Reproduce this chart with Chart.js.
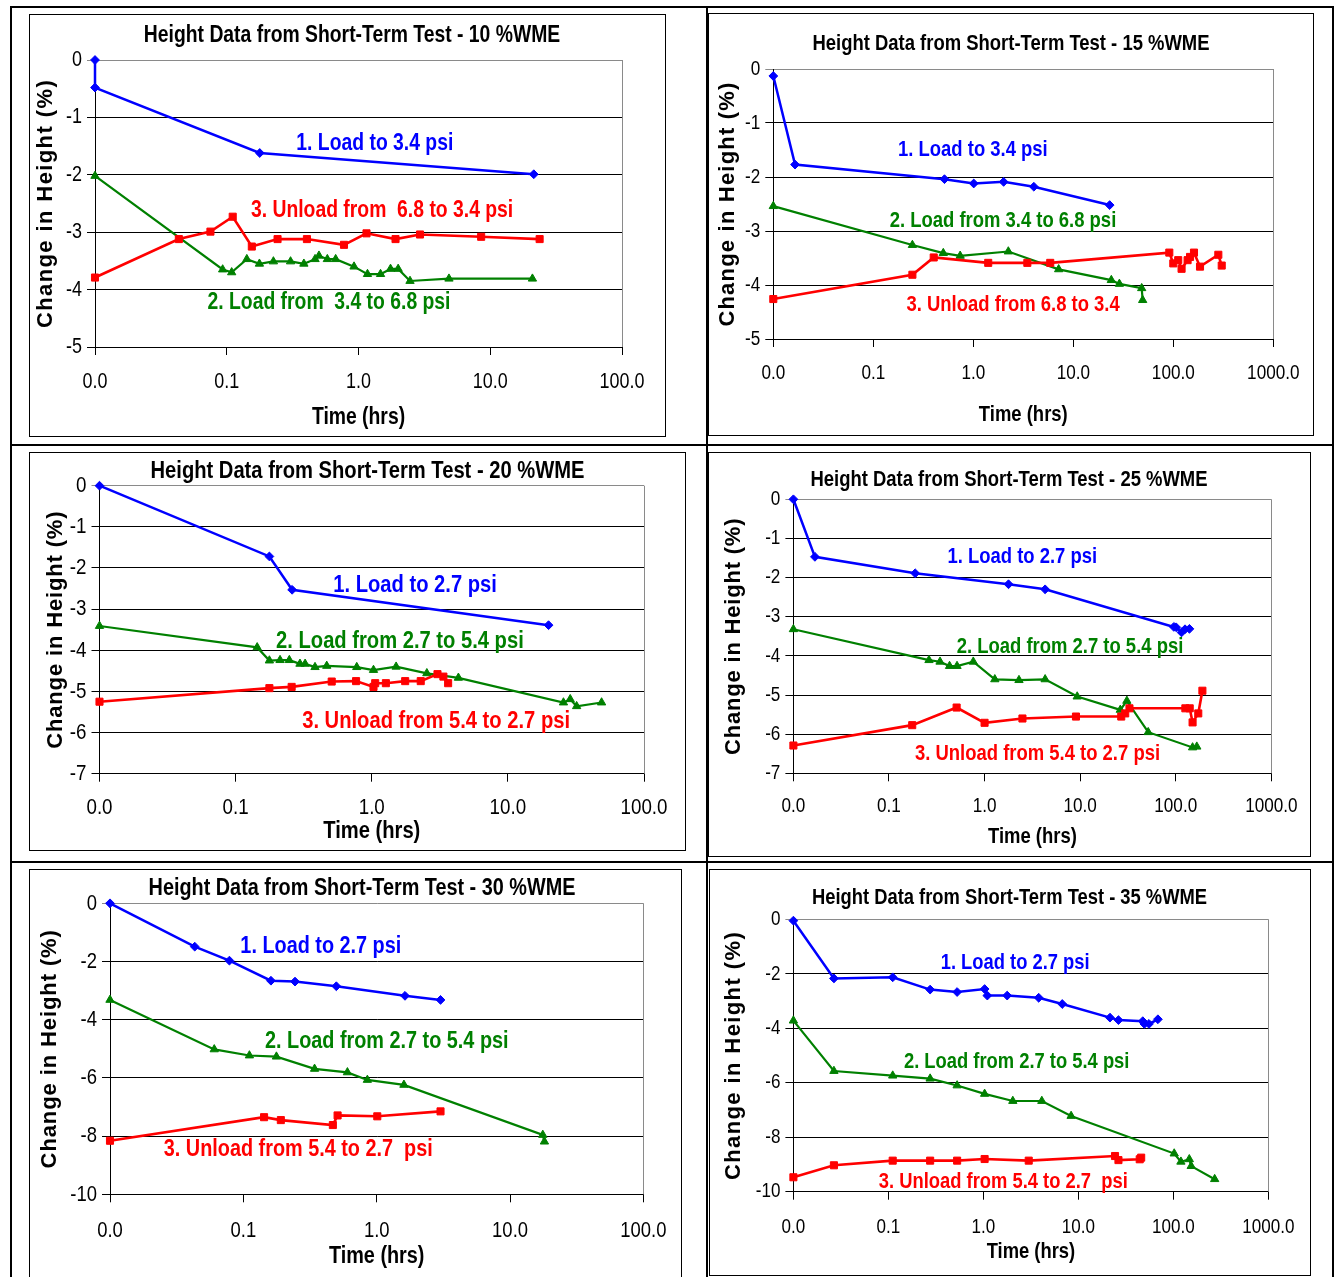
<!DOCTYPE html>
<html><head><meta charset="utf-8">
<script src="https://cdn.jsdelivr.net/npm/chart.js@4.4.1/dist/chart.umd.min.js"></script>
<style>
html,body{margin:0;padding:0;background:#fff}
body{width:1335px;height:1277px;position:relative;overflow:hidden}
.ln{position:absolute;background:#000}
.frame{position:absolute;border:1px solid #000;box-sizing:border-box}
canvas{position:absolute}
</style></head>
<body>
<div class="ln" style="left:10px;top:6px;width:1324px;height:2px"></div>
<div class="ln" style="left:10px;top:6px;width:2px;height:1280px"></div>
<div class="ln" style="left:1332px;top:6px;width:2px;height:1280px"></div>
<div class="ln" style="left:706px;top:6px;width:2px;height:1280px"></div>
<div class="ln" style="left:10px;top:444px;width:1324px;height:2px"></div>
<div class="ln" style="left:10px;top:861px;width:1324px;height:2px"></div>
<script>
// ---------------- DATA ----------------
// Time (hrs) and change in height (%) for each stage, per test (%WME)
const t10_load1 = [0.01, 0.01, 0.178, 21.4];
const h10_load1 = [0, -0.48, -1.62, -1.99];
const t10_load2 = [0.01, 0.0931, 0.109, 0.142, 0.177, 0.226, 0.305, 0.385, 0.468, 0.501, 0.580, 0.671, 0.925, 1.17, 1.47, 1.75, 2.00, 2.46, 4.86, 20.9];
const h10_load2 = [-2.02, -3.65, -3.70, -3.47, -3.55, -3.51, -3.51, -3.55, -3.47, -3.41, -3.47, -3.47, -3.60, -3.73, -3.73, -3.64, -3.64, -3.85, -3.81, -3.81];
const t10_unload = [0.01, 0.0433, 0.0752, 0.111, 0.155, 0.243, 0.406, 0.776, 1.15, 1.91, 2.93, 8.53, 23.7];
const h10_unload = [-3.79, -3.12, -2.99, -2.73, -3.25, -3.12, -3.12, -3.22, -3.02, -3.12, -3.04, -3.08, -3.12];

const t15_load1 = [0.01, 0.0165, 0.515, 1.01, 2.01, 4.03, 23.1];
const h15_load1 = [-0.13, -1.77, -2.04, -2.12, -2.09, -2.18, -2.52];
const t15_load2 = [0.01, 0.246, 0.501, 0.739, 2.24, 7.14, 24.0, 28.9, 48.3, 49.4];
const h15_load2 = [-2.54, -3.26, -3.41, -3.46, -3.38, -3.71, -3.91, -3.98, -4.06, -4.28];
const t15_unload = [0.01, 0.246, 0.402, 1.41, 3.47, 5.88, 91.2, 100, 112, 121, 139, 147, 161, 185, 282, 305];
const h15_unload = [-4.26, -3.81, -3.49, -3.59, -3.59, -3.59, -3.40, -3.60, -3.54, -3.70, -3.54, -3.48, -3.40, -3.66, -3.44, -3.64];

const t20_load1 = [0.01, 0.177, 0.26, 19.9];
const h20_load1 = [0, -1.72, -2.53, -3.39];
const t20_load2 = [0.01, 0.144, 0.177, 0.212, 0.248, 0.297, 0.324, 0.383, 0.467, 0.776, 1.03, 1.51, 2.54, 4.33, 25.6, 28.7, 32.0, 48.8];
const h20_load2 = [-3.41, -3.93, -4.25, -4.24, -4.24, -4.33, -4.33, -4.41, -4.38, -4.41, -4.48, -4.40, -4.56, -4.67, -5.27, -5.19, -5.36, -5.27];
const t20_unload = [0.01, 0.177, 0.258, 0.508, 0.767, 1.03, 1.06, 1.27, 1.76, 2.29, 3.04, 3.36, 3.64];
const h20_unload = [-5.25, -4.92, -4.89, -4.76, -4.75, -4.89, -4.80, -4.80, -4.75, -4.75, -4.58, -4.64, -4.80];

const t25_load1 = [0.01, 0.0168, 0.188, 1.78, 4.30, 95.5, 101, 115, 125, 139];
const h25_load1 = [0, -1.47, -1.89, -2.17, -2.30, -3.26, -3.27, -3.40, -3.32, -3.31];
const t25_load2 = [0.01, 0.262, 0.342, 0.430, 0.515, 0.762, 1.28, 2.29, 4.30, 9.31, 26.3, 30.8, 51.5, 150, 166];
const h25_load2 = [-3.32, -4.11, -4.15, -4.26, -4.26, -4.15, -4.60, -4.62, -4.60, -5.04, -5.38, -5.15, -5.95, -6.34, -6.32];
const t25_unload = [0.01, 0.175, 0.510, 1.00, 2.49, 9.04, 26.9, 29.6, 32.8, 126, 140, 150, 172, 190];
const h25_unload = [-6.29, -5.77, -5.32, -5.71, -5.60, -5.55, -5.55, -5.47, -5.34, -5.34, -5.34, -5.70, -5.47, -4.89];

const t30_load1 = [0.01, 0.0432, 0.0786, 0.161, 0.244, 0.498, 1.63, 3.01];
const h30_load1 = [0, -1.49, -1.97, -2.66, -2.69, -2.85, -3.18, -3.32];
const t30_load2 = [0.01, 0.0605, 0.111, 0.177, 0.342, 0.603, 0.851, 1.60, 17.6, 18.1];
const h30_load2 = [-3.32, -5.02, -5.23, -5.27, -5.69, -5.81, -6.07, -6.24, -7.96, -8.19];
const t30_unload = [0.01, 0.143, 0.191, 0.469, 0.509, 1.01, 3.01];
const h30_unload = [-8.16, -7.35, -7.45, -7.62, -7.29, -7.32, -7.15];

const t35_load1 = [0.01, 0.0267, 0.111, 0.275, 0.529, 1.03, 1.10, 1.78, 3.82, 6.76, 21.5, 26.4, 47.6, 49.5, 55.3, 68.7];
const h35_load1 = [-0.05, -2.17, -2.13, -2.58, -2.67, -2.56, -2.80, -2.80, -2.88, -3.11, -3.61, -3.70, -3.74, -3.84, -3.84, -3.67];
const t35_load2 = [0.01, 0.0267, 0.111, 0.275, 0.529, 1.03, 2.04, 4.12, 8.38, 102, 120, 147, 154, 272];
const h35_load2 = [-3.72, -5.57, -5.74, -5.85, -6.10, -6.41, -6.67, -6.67, -7.22, -8.60, -8.90, -8.81, -9.06, -9.54];
const t35_unload = [0.01, 0.0267, 0.111, 0.275, 0.529, 1.03, 3.00, 24.3, 26.4, 44.2, 45.8];
const h35_unload = [-9.47, -9.03, -8.86, -8.86, -8.86, -8.80, -8.86, -8.69, -8.84, -8.81, -8.75];

// Tick values and labels
const xTicks4 = [0.01, 0.1, 1, 10, 100];
const xTickLabels4 = ['0.0', '0.1', '1.0', '10.0', '100.0'];
const xTicks5 = [0.01, 0.1, 1, 10, 100, 1000];
const xTickLabels5 = ['0.0', '0.1', '1.0', '10.0', '100.0', '1000.0'];

const titles = ['Height Data from Short-Term Test - 10 %WME', 'Height Data from Short-Term Test - 15 %WME',
  'Height Data from Short-Term Test - 20 %WME', 'Height Data from Short-Term Test - 25 %WME',
  'Height Data from Short-Term Test - 30 %WME', 'Height Data from Short-Term Test - 35 %WME'];
const xAxisTitle = 'Time (hrs)';
const yAxisTitle = 'Change in Height (%)';

// Series annotation texts and their anchor (time, height) in data units
const labels10 = ['1. Load to 3.4 psi', '2. Load from  3.4 to 6.8 psi', '3. Unload from  6.8 to 3.4 psi'];
const labelPos10 = [[1.33, -1.45], [0.597, -4.22], [1.51, -2.63]];
const labels15 = ['1. Load to 3.4 psi', '2. Load from 3.4 to 6.8 psi', '3. Unload from 6.8 to 3.4'];
const labelPos15 = [[0.99, -1.5], [1.98, -2.81], [2.5, -4.37]];
const labels20 = ['1. Load to 2.7 psi', '2. Load from 2.7 to 5.4 psi', '3. Unload from 5.4 to 2.7 psi'];
const labelPos20 = [[2.08, -2.41], [1.61, -3.78], [2.97, -5.72]];
const labels25 = ['1. Load to 2.7 psi', '2. Load from 2.7 to 5.4 psi', '3. Unload from 5.4 to 2.7 psi'];
const labelPos25 = [[2.48, -1.47], [7.83, -3.77], [3.58, -6.51]];
const labels30 = ['1. Load to 2.7 psi', '2. Load from 2.7 to 5.4 psi', '3. Unload from 5.4 to 2.7  psi'];
const labelPos30 = [[0.381, -1.47], [1.19, -4.76], [0.258, -8.44]];
const labels35 = ['1. Load to 2.7 psi', '2. Load from 2.7 to 5.4 psi', '3. Unload from 5.4 to 2.7  psi'];
const labelPos35 = [[2.16, -1.60], [2.24, -5.24], [1.62, -9.63]];

// ---------------- NARROW FONT EMULATION ----------------
// No Arial Narrow installed: draw Liberation Sans condensed horizontally
// for any font whose family list starts with the "NarrowSim" alias.
const NARROW_K = 0.82;
(function () {
  const P = CanvasRenderingContext2D.prototype;
  const ofill = P.fillText, omeasure = P.measureText;
  P.fillText = function (text, x, y, maxW) {
    if (this.font.indexOf('NarrowSim') >= 0) {
      this.save(); this.translate(x, y); this.scale(NARROW_K, 1);
      if (maxW !== undefined) ofill.call(this, text, 0, 0, maxW / NARROW_K); else ofill.call(this, text, 0, 0);
      this.restore();
    } else {
      ofill.apply(this, arguments);
    }
  };
  P.measureText = function (text) {
    const m = omeasure.call(this, text);
    if (this.font.indexOf('NarrowSim') >= 0) {
      return {
        width: m.width * NARROW_K,
        actualBoundingBoxLeft: m.actualBoundingBoxLeft * NARROW_K,
        actualBoundingBoxRight: m.actualBoundingBoxRight * NARROW_K,
        actualBoundingBoxAscent: m.actualBoundingBoxAscent,
        actualBoundingBoxDescent: m.actualBoundingBoxDescent,
        fontBoundingBoxAscent: m.fontBoundingBoxAscent,
        fontBoundingBoxDescent: m.fontBoundingBoxDescent
      };
    }
    return m;
  };
})();

// ---------------- STYLE / LAYOUT ----------------
const NARROW = "NarrowSim,'Liberation Sans',Arial,sans-serif";
const WIDE = "'Liberation Sans',Arial,sans-serif";
const COLORS = ['#0000FF', '#008000', '#FF0000'];
const MARKERS = ['rectRot', 'triangle', 'rect'];
const RADII = [4.4, 4.8, 5.0];
const WIDTHS = [2.5, 2.2, 2.6];

const panels = [
  {frame:[29,14,637,423], box:{x:30,y:15,w:635,h:421}, plot:{l:65,r:592,t:45,b:332}, tpos:[322,20], fs:23.6, xTickOff:35, xTitleOff:70, yTitleC:16, yLS:1.4,
   xMax:100, xt:xTicks4, xl:xTickLabels4, yMin:-5, yStep:1,
   t:[t10_load1,t10_load2,t10_unload], h:[h10_load1,h10_load2,h10_unload], lab:labels10, lp:labelPos10},
  {frame:[708,13,606,423], box:{x:709,y:14,w:604,h:421}, plot:{l:64.3,r:564.3,t:55,b:325}, tpos:[302,30], fs:22.5, xTickOff:34, xTitleOff:76, yTitleC:19, yLS:1.2,
   xMax:1000, xt:xTicks5, xl:xTickLabels5, yMin:-5, yStep:1,
   t:[t15_load1,t15_load2,t15_unload], h:[h15_load1,h15_load2,h15_unload], lab:labels15, lp:labelPos15},
  {frame:[29,452,657,399], box:{x:30,y:453,w:655,h:397}, plot:{l:69.5,r:614,t:32.7,b:320.7}, tpos:[337.5,18.7], fs:24.6, xTickOff:34, xTitleOff:58, yTitleC:26, yLS:0.85,
   xMax:100, xt:xTicks4, xl:xTickLabels4, yMin:-7, yStep:1,
   t:[t20_load1,t20_load2,t20_unload], h:[h20_load1,h20_load2,h20_unload], lab:labels20, lp:labelPos20},
  {frame:[708,452,603,405], box:{x:709,y:453,w:601,h:403}, plot:{l:84.4,r:569.2,t:46.3,b:320.3}, tpos:[300,27], fs:22.5, xTickOff:33, xTitleOff:63, yTitleC:25, yLS:0.8,
   xMax:1000, xt:xTicks5, xl:xTickLabels5, yMin:-7, yStep:1,
   t:[t25_load1,t25_load2,t25_unload], h:[h25_load1,h25_load2,h25_unload], lab:labels25, lp:labelPos25},
  {frame:[29,869,653,420], box:{x:30,y:870,w:651,h:407}, plot:{l:80,r:623.8,t:33.3,b:324.3}, tpos:[332,18.3], fs:24.2, xTickOff:36, xTitleOff:62, yTitleC:20, yLS:0.9,
   xMax:100, xt:xTicks4, xl:xTickLabels4, yMin:-10, yStep:2,
   t:[t30_load1,t30_load2,t30_unload], h:[h30_load1,h30_load2,h30_unload], lab:labels30, lp:labelPos30},
  {frame:[709,869,602,407], box:{x:710,y:870,w:600,h:404}, plot:{l:83.4,r:563.3,t:49.3,b:321.7}, tpos:[299.5,28.3], fs:22.4, xTickOff:36, xTitleOff:60, yTitleC:24, yLS:1.4,
   xMax:1000, xt:xTicks5, xl:xTickLabels5, yMin:-10, yStep:2,
   t:[t35_load1,t35_load2,t35_unload], h:[h35_load1,h35_load2,h35_unload], lab:labels35, lp:labelPos35}
];

// ---------------- PLUGINS ----------------
const panelTitle = {
  id: 'panelTitle',
  afterDraw(chart, args, o) {
    const ctx = chart.ctx; ctx.save();
    ctx.font = 'bold ' + o.size + 'px ' + NARROW;
    ctx.fillStyle = '#000'; ctx.textAlign = 'center'; ctx.textBaseline = 'middle';
    ctx.fillText(o.text, o.x, o.y); ctx.restore();
  }
};
const seriesText = {
  id: 'seriesText',
  afterDatasetsDraw(chart, args, o) {
    const ctx = chart.ctx, xs = chart.scales.x, ys = chart.scales.y;
    ctx.save();
    ctx.font = 'bold ' + o.size + 'px ' + NARROW;
    ctx.textAlign = 'center'; ctx.textBaseline = 'middle';
    o.items.forEach(it => {
      ctx.fillStyle = it.color;
      ctx.fillText(it.text, xs.getPixelForValue(it.t), ys.getPixelForValue(it.h));
    });
    ctx.restore();
  }
};
const plotFrame = {
  id: 'plotFrame',
  beforeDatasetsDraw(chart) {
    const a = chart.chartArea, ctx = chart.ctx;
    ctx.save(); ctx.strokeStyle = '#8a8a8a'; ctx.lineWidth = 1;
    ctx.beginPath(); ctx.moveTo(Math.round(a.right) + 0.5, a.top); ctx.lineTo(Math.round(a.right) + 0.5, a.bottom); ctx.stroke();
    ctx.restore();
  }
};
const spacedYTitle = {
  id: 'spacedYTitle',
  beforeDraw(chart, args, o) {
    const s = chart.scales.y;
    if (s && !s.__spaced) {
      const orig = s.drawTitle;
      s.drawTitle = function () {
        const ctx = this.ctx; ctx.save();
        ctx.letterSpacing = o.spacing + 'px';
        orig.apply(this, arguments);
        ctx.restore();
      };
      s.__spaced = true;
    }
  }
};

// ---------------- BUILD ----------------
panels.forEach((p, idx) => {
  const fr = document.createElement('div');
  fr.className = 'frame';
  fr.style.left = p.frame[0] + 'px'; fr.style.top = p.frame[1] + 'px';
  fr.style.width = p.frame[2] + 'px'; fr.style.height = p.frame[3] + 'px';
  document.body.appendChild(fr);

  const cv = document.createElement('canvas');
  cv.width = p.box.w; cv.height = p.box.h;
  cv.style.left = p.box.x + 'px'; cv.style.top = p.box.y + 'px';
  cv.style.width = p.box.w + 'px'; cv.style.height = p.box.h + 'px';
  document.body.appendChild(cv);

  const tickFs = Math.round(p.fs * 0.93 * 10) / 10;
  const tickLH = tickFs * 1.2;
  const xTitleLH = p.fs * 1.2;
  const yTitleFs = 22, yTitleLH = yTitleFs * 1.2;
  const xAxisH = p.box.h - p.plot.b;

  const datasets = [2, 1, 0].map(k => ({
    label: p.lab[k],
    data: p.t[k].map((tv, i) => ({x: tv, y: p.h[k][i]})),
    showLine: true,
    borderColor: COLORS[k], backgroundColor: COLORS[k],
    borderWidth: WIDTHS[k], pointStyle: MARKERS[k], pointRadius: RADII[k],
    pointBorderWidth: 1, tension: 0, clip: false
  }));

  new Chart(cv, {
    type: 'scatter',
    data: {datasets},
    plugins: [panelTitle, seriesText, plotFrame, spacedYTitle],
    options: {
      responsive: false, animation: false, devicePixelRatio: 1,
      events: [],
      layout: {padding: {left: 0, top: p.plot.t, right: p.box.w - p.plot.r, bottom: 0}},
      plugins: {
        legend: {display: false}, tooltip: {enabled: false}, title: {display: false},
        panelTitle: {text: titles[idx], x: p.tpos[0], y: p.tpos[1], size: p.fs},
        seriesText: {size: p.fs, items: [0, 1, 2].map(k => ({text: p.lab[k], t: p.lp[k][0], h: p.lp[k][1], color: COLORS[k]}))},
        spacedYTitle: {spacing: p.yLS}
      },
      scales: {
        x: {
          type: 'logarithmic', position: 'bottom', min: 0.01, max: p.xMax,
          afterBuildTicks: s => { s.ticks = p.xt.map(v => ({value: v})); },
          afterFit: s => { s.height = xAxisH; },
          ticks: {
            autoSkip: false, maxRotation: 0, minRotation: 0, color: '#000',
            font: {family: NARROW, size: tickFs},
            padding: p.xTickOff - 8 - tickLH / 2,
            callback: (v, i) => p.xl[i]
          },
          grid: {drawOnChartArea: false, drawTicks: true, tickLength: 8, color: '#000', lineWidth: 1},
          border: {display: true, color: '#000', width: 1},
          title: {
            display: true, text: xAxisTitle, color: '#000',
            font: {family: NARROW, size: p.fs, weight: 'bold'},
            padding: {top: 0, bottom: p.box.h - (p.plot.b + p.xTitleOff) - xTitleLH / 2}
          }
        },
        y: {
          type: 'linear', position: 'left', min: p.yMin, max: 0,
          afterFit: s => { s.width = p.plot.l; },
          ticks: {stepSize: p.yStep, color: '#000', font: {family: NARROW, size: tickFs}, padding: 5},
          grid: {
            color: c => (c.tick && c.tick.value === 0) ? '#8a8a8a' : '#000',
            lineWidth: 1, tickLength: 8, drawTicks: true
          },
          border: {display: true, color: '#000', width: 1},
          title: {
            display: true, text: yAxisTitle, color: '#000',
            font: {family: WIDE, size: yTitleFs, weight: 'bold'},
            padding: {top: p.yTitleC - yTitleLH / 2, bottom: 0}
          }
        }
      }
    }
  });
});
</script>
</body></html>
